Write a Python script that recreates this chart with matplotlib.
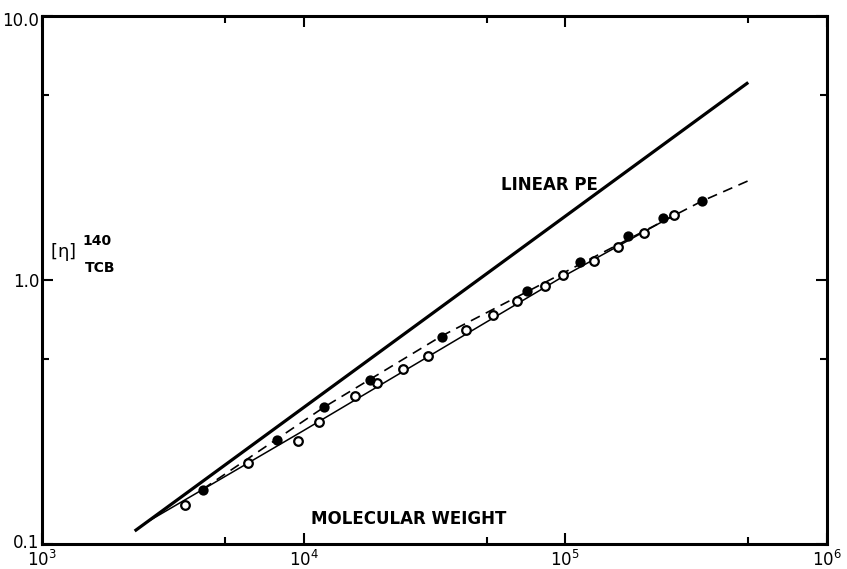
import matplotlib
matplotlib.use("Agg")
import matplotlib.pyplot as plt
import matplotlib.transforms as mtransforms
from matplotlib.ticker import FixedLocator, NullFormatter, FixedFormatter

plt.rcParams['font.family'] = ['DejaVu Sans']
plt.rcParams['mathtext.default'] = 'regular'

# Linear PE reference line (endpoints)
linear_pe_M = [2260, 5.0e5]
linear_pe_eta = [0.112, 5.6]

# Open circles
open_M = [3510, 6120, 9510, 11430, 15700, 19050, 23950, 29850, 41700, 52900,
          65300, 83500, 98000, 128600, 158800, 199600, 260000]
open_eta = [0.141, 0.203, 0.245, 0.290, 0.364, 0.407, 0.460, 0.515, 0.647, 0.737,
            0.833, 0.949, 1.044, 1.18, 1.334, 1.507, 1.762]

# Filled circles
filled_M = [4120, 7900, 11970, 17900, 33700, 71300, 113800, 173400, 236000, 332600]
filled_eta = [0.160, 0.248, 0.330, 0.418, 0.608, 0.908, 1.170, 1.468, 1.718, 1.99]

# Thin solid curve through open circles
open_fit_M = [2480, 9930, 98900, 265000]
open_fit_eta = [0.120, 0.268, 1.036, 1.778]

# Dashed curve through filled circles
filled_fit_M = [4120, 11970, 33700, 332600, 507000]
filled_fit_eta = [0.1615, 0.330, 0.614, 1.99, 2.39]

x_ticks = [1e3, 1e4, 1e5, 1e6]
x_tick_labels = ['$10^{3}$', '$10^{4}$', '$10^{5}$', '$10^{6}$']
x_minor = [5e3, 5e4, 5e5]
y_ticks = [0.1, 1.0, 10.0]
y_tick_labels = ['0.1', '1.0', '10.0']
y_minor = [0.5, 5.0]

fig = plt.figure(figsize=(8.47, 5.69), dpi=100)
ax = fig.add_axes([0.0496, 0.0439, 0.9268, 0.928])
ax.set_xscale('log')
ax.set_yscale('log')
ax.set_xlim(1e3, 1e6)
ax.set_ylim(0.1, 10.0)

ax.plot(linear_pe_M, linear_pe_eta, color='black', lw=2.3, solid_capstyle='butt')
ax.plot(open_fit_M, open_fit_eta, color='black', lw=1.1)
ax.plot(filled_fit_M, filled_fit_eta, color='black', lw=1.2, ls=(0, (6, 4)))
ax.plot(open_M, open_eta, ls='none', marker='o', ms=6.2, mfc='white',
        mec='black', mew=1.6)
ax.plot(filled_M, filled_eta, ls='none', marker='o', ms=6.2, mfc='black',
        mec='black', mew=1.2)

ax.xaxis.set_major_locator(FixedLocator(x_ticks))
ax.xaxis.set_major_formatter(FixedFormatter(x_tick_labels))
ax.xaxis.set_minor_locator(FixedLocator(x_minor))
ax.xaxis.set_minor_formatter(NullFormatter())
ax.yaxis.set_major_locator(FixedLocator(y_ticks))
ax.yaxis.set_major_formatter(FixedFormatter(y_tick_labels))
ax.yaxis.set_minor_locator(FixedLocator(y_minor))
ax.yaxis.set_minor_formatter(NullFormatter())

ax.tick_params(which='both', direction='in', top=True, right=True, width=1.5)
ax.tick_params(which='major', length=8)
ax.tick_params(which='minor', length=5)
ax.tick_params(axis='x', which='major', labelsize=12, pad=4)
ax.tick_params(axis='y', which='major', labelsize=12, pad=2)
for s in ax.spines.values():
    s.set_linewidth(2.2)

# nudge the bottom y label up slightly so it clears the 10^3 label
fig.canvas.draw()
ylabels = ax.get_yticklabels()
shift = mtransforms.ScaledTranslation(0, 3 / 100, fig.dpi_scale_trans)
ylabels[0].set_transform(ylabels[0].get_transform() + shift)
shift_down = mtransforms.ScaledTranslation(0, -3 / 100, fig.dpi_scale_trans)
ylabels[-1].set_transform(ylabels[-1].get_transform() + shift_down)

ax.text(0.647, 0.680, 'LINEAR PE', transform=ax.transAxes, ha='center',
        va='center', fontsize=12, fontweight='bold')
ax.text(0.4675, 0.047, 'MOLECULAR WEIGHT', transform=ax.transAxes, ha='center',
        va='center', fontsize=12, fontweight='bold')
ax.text(0.0268, 0.553, r'$[\eta]$', transform=ax.transAxes, ha='center',
        va='center', fontsize=13)
ax.text(0.070, 0.574, '140', transform=ax.transAxes, ha='center',
        va='center', fontsize=10, fontweight='bold')
ax.text(0.074, 0.523, 'TCB', transform=ax.transAxes, ha='center',
        va='center', fontsize=10, fontweight='bold')

fig.savefig('out.png', dpi=100)
